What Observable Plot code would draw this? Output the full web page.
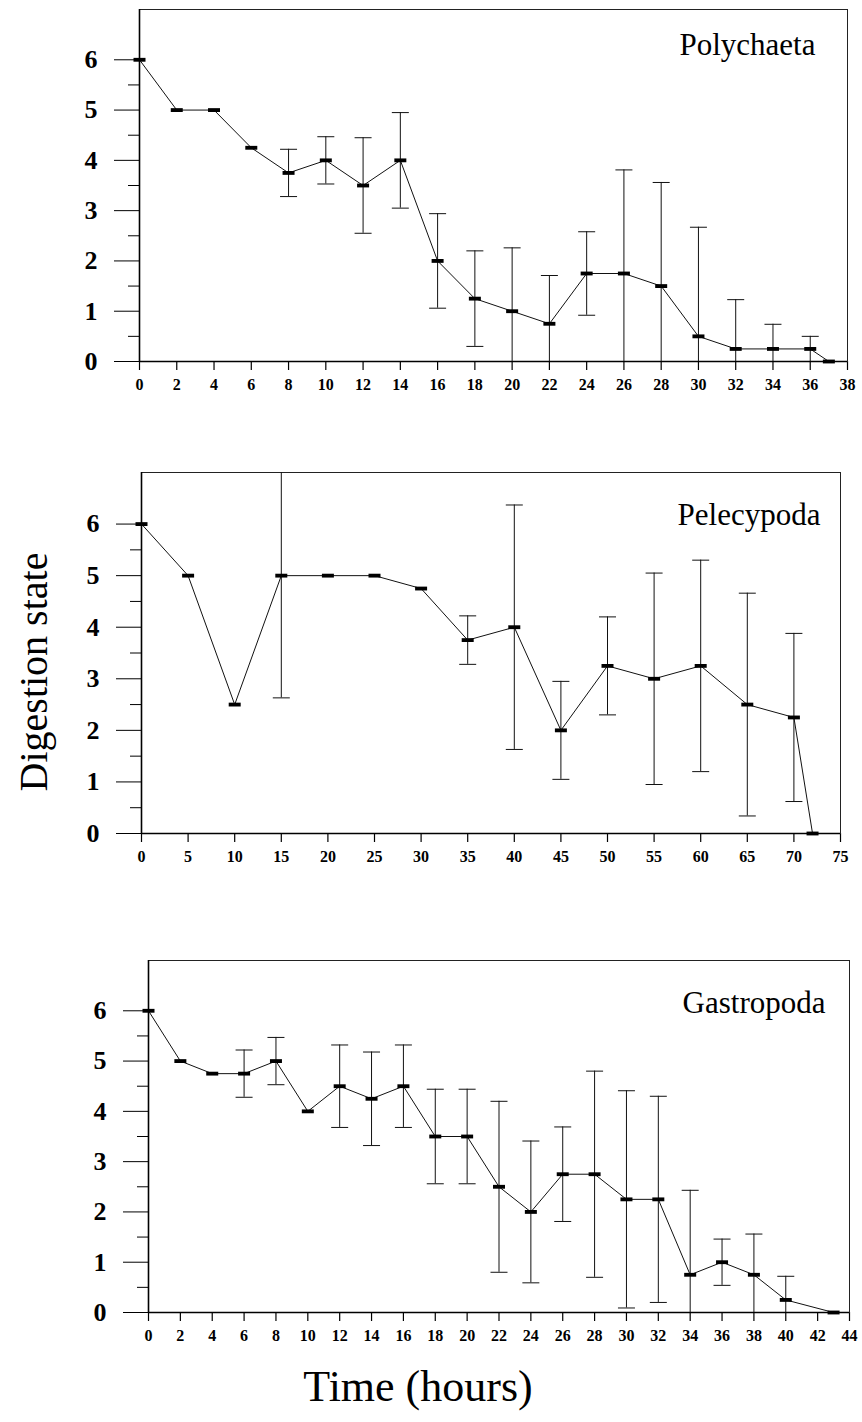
<!DOCTYPE html>
<html>
<head>
<meta charset="utf-8">
<script src="https://cdn.jsdelivr.net/npm/d3@7"></script>
<script src="https://cdn.jsdelivr.net/npm/@observablehq/plot@0.6"></script>
<style>
  body { margin: 0; background: #fff; }
  #fig { position: relative; width: 862px; height: 1422px; font-family: "Liberation Serif", "Times New Roman", serif; color: #000; }
  .panel { position: absolute; left: 0; }
  #ytitle { position: absolute; left: 33px; top: 672px; transform: translate(-50%, -50%) rotate(-90deg); font-size: 40px; white-space: nowrap; }
  #xtitle { position: absolute; left: 418px; top: 1386px; transform: translate(-50%, -50%); font-size: 44px; white-space: nowrap; }
</style>
</head>
<body>
<div id="fig">
  <div id="ytitle">Digestion state</div>
  <div id="xtitle">Time (hours)</div>
</div>
<script>
// Mean digestion state (± SD) of prey items over time, by prey group
const polyTime = [0, 2, 4, 6, 8, 10, 12, 14, 16, 18, 20, 22, 24, 26, 28, 30, 32, 34, 36, 37];
const polyMean = [6, 5, 5, 4.25, 3.75, 4, 3.5, 4, 2, 1.25, 1, 0.75, 1.75, 1.75, 1.5, 0.5, 0.25, 0.25, 0.25, 0];
const polySD   = [0, 0, 0, 0, 0.47, 0.47, 0.95, 0.95, 0.94, 0.95, 1.26, 0.96, 0.83, 2.06, 2.06, 2.17, 0.98, 0.49, 0.25, 0];

const pelTime = [0, 5, 10, 15, 20, 25, 30, 35, 40, 45, 50, 55, 60, 65, 70, 72];
const pelMean = [6, 5, 2.5, 5, 5, 5, 4.75, 3.75, 4, 2, 3.25, 3, 3.25, 2.5, 2.25, 0];
const pelSD   = [0, 0, 0, 2.37, 0, 0, 0, 0.47, 2.37, 0.95, 0.95, 2.05, 2.05, 2.16, 1.63, 0];

const gasTime = [0, 2, 4, 6, 8, 10, 12, 14, 16, 18, 20, 22, 24, 26, 28, 30, 32, 34, 36, 38, 40, 43];
const gasMean = [6, 5, 4.75, 4.75, 5, 4, 4.5, 4.25, 4.5, 3.5, 3.5, 2.5, 2, 2.75, 2.75, 2.25, 2.25, 0.75, 1, 0.75, 0.25, 0];
const gasSD   = [0, 0, 0, 0.47, 0.47, 0, 0.82, 0.93, 0.82, 0.94, 0.94, 1.7, 1.41, 0.94, 2.05, 2.16, 2.05, 1.68, 0.46, 0.81, 0.47, 0];

const yMajor = [0, 1, 2, 3, 4, 5, 6];
const yMinor = [0.5, 1.5, 2.5, 3.5, 4.5, 5.5];

// Flat horizontal bar used as the mean marker
const dashSymbol = {
  draw(ctx, size) {
    const r = Math.sqrt(size / Math.PI), h = r * 0.32;
    ctx.moveTo(-r, -h); ctx.lineTo(r, -h); ctx.lineTo(r, h); ctx.lineTo(-r, h); ctx.closePath();
  }
};
// Horizontal cap at the end of an error bar
const capSymbol = {
  draw(ctx, size) {
    const r = Math.sqrt(size / Math.PI);
    ctx.moveTo(-r, 0); ctx.lineTo(r, 0);
  }
};

const panels = [
  { name: "Polychaeta", time: polyTime, mean: polyMean, sd: polySD, xMax: 38, step: 2,
    top: 0, height: 400, mt: 9, mb: 39, ml: 139, mr: 15, dx: -32, dy: 23 },
  { name: "Pelecypoda", time: pelTime, mean: pelMean, sd: pelSD, xMax: 75, step: 5,
    top: 460, height: 410, mt: 12, mb: 37, ml: 141, mr: 22, dx: -20, dy: 30 },
  { name: "Gastropoda", time: gasTime, mean: gasMean, sd: gasSD, xMax: 44, step: 2,
    top: 950, height: 400, mt: 10, mb: 38, ml: 148, mr: 13, dx: -24, dy: 30 }
];

const fig = document.getElementById("fig");

for (const p of panels) {
  const rows = p.time.map((t, i) => ({ t, m: p.mean[i], sd: p.sd[i] }));
  const bars = rows.filter(d => d.sd > 0);
  const caps = bars.flatMap(d => [{ t: d.t, y: d.m + d.sd }, { t: d.t, y: d.m - d.sd }]);

  const chart = Plot.plot({
    width: 862,
    height: p.height,
    marginTop: p.mt,
    marginBottom: p.mb,
    marginLeft: p.ml,
    marginRight: p.mr,
    style: { fontFamily: "Liberation Serif, Times New Roman, serif", color: "#000", background: "transparent" },
    x: { domain: [0, p.xMax] },
    y: { domain: [0, 7] },
    marks: [
      Plot.axisY(yMajor, { tickSize: 25, tickPadding: 17, tickFormat: d3.format("d"), fontSize: 26, fontWeight: "bold", label: null, strokeWidth: 1 }),
      Plot.axisY(yMinor, { tickSize: 11, tickFormat: () => "", label: null, strokeWidth: 1 }),
      Plot.axisX(d3.range(0, p.xMax + 1, p.step), { tickSize: 9, tickPadding: 8, tickFormat: d3.format("d"), fontSize: 16, fontWeight: "bold", label: null, strokeWidth: 1.2 }),
      Plot.frame({ stroke: "#222", strokeWidth: 1 }),
      Plot.ruleX([0], { stroke: "#000", strokeWidth: 1.6 }),
      Plot.ruleY([0], { stroke: "#000", strokeWidth: 1.6 }),
      Plot.ruleX(bars, { x: "t", y1: d => d.m - d.sd, y2: d => d.m + d.sd, stroke: "#111", strokeWidth: 1, clip: true }),
      Plot.dot(caps, { x: "t", y: "y", symbol: capSymbol, r: 8.5, fill: "none", stroke: "#111", strokeWidth: 1, clip: true }),
      Plot.line(rows, { x: "t", y: "m", stroke: "#111", strokeWidth: 1 }),
      Plot.dot(rows, { x: "t", y: "m", symbol: dashSymbol, r: 6, fill: "#000", stroke: "none" }),
      Plot.text([p.name], { frameAnchor: "top-right", dx: p.dx, dy: p.dy, lineAnchor: "top", fontSize: 31, fill: "#000" })
    ]
  });
  chart.classList.add("panel");
  chart.style.top = p.top + "px";
  fig.appendChild(chart);
}
</script>
</body>
</html>
